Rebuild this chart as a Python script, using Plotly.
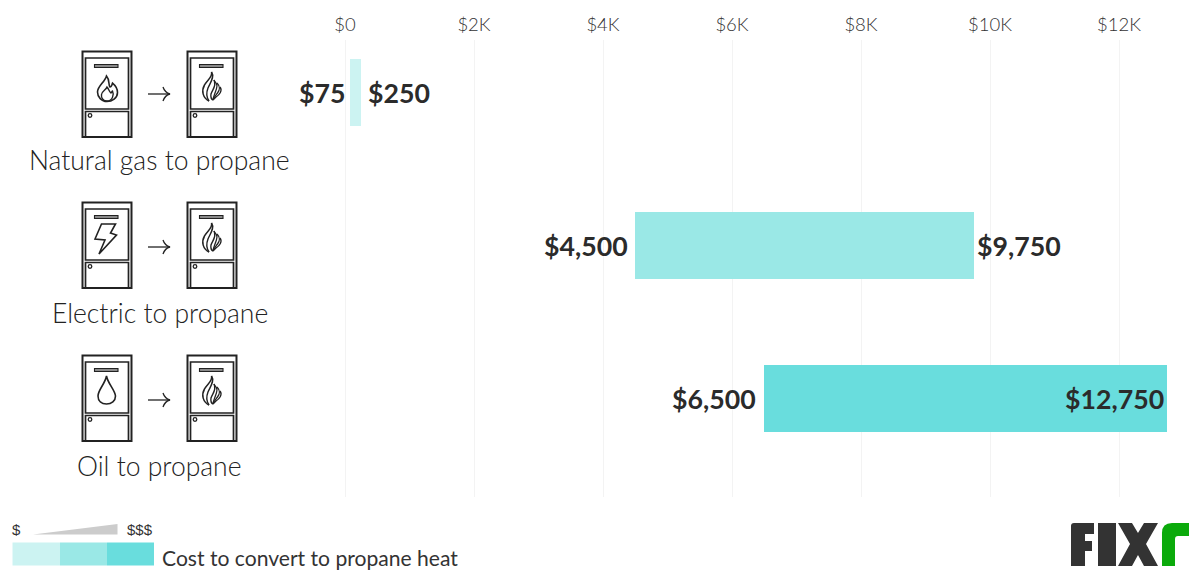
import re
import plotly.graph_objects as go

W, H = 1200, 578

# ---- data ----
categories = ["Natural gas to propane", "Electric to propane", "Oil to propane"]
low_values = [75, 4500, 6500]
high_values = [250, 9750, 12750]
low_labels = ["$75", "$4,500", "$6,500"]
high_labels = ["$250", "$9,750", "$12,750"]
bar_colors = ["#CCF3F2", "#9AE8E6", "#69DDDD"]
tick_values = [0, 2000, 4000, 6000, 8000, 10000, 12000]
tick_labels = ["$0", "$2K", "$4K", "$6K", "$8K", "$10K", "$12K"]
legend_title = "Cost to convert to propane heat"

# ---- layout constants (pixels) ----
X0_PX, PX_PER_USD = 345.0, 0.0645
PLOT_TOP, PLOT_BOTTOM = 40, 497
ROW0_PX, ROW_STEP = 92.5, 153.0
DARK = "#333333"


def to_paper(path, dx=0, dy=0):
    toks = re.findall(r"[A-Za-z]|-?\d+\.?\d*", path)
    out, is_x = [], True
    for t in toks:
        if t.isalpha():
            out.append(t)
            is_x = True
        else:
            v = float(t)
            out.append(f"{(v + dx) / W:.5f}" if is_x else f"{1 - (v + dy) / H:.5f}")
            is_x = not is_x
    return " ".join(out)


shapes = []


def add(path, dx=0, dy=0, fill=None, line=None, lw=1.0):
    shapes.append(dict(
        type="path", xref="paper", yref="paper", path=to_paper(path, dx, dy),
        fillcolor=fill if fill else "rgba(0,0,0,0)",
        line=dict(color=line if line else "rgba(0,0,0,0)", width=lw if line else 0),
        layer="above",
    ))


def rect(x0, y0, x1, y1):
    return f"M {x0} {y0} L {x1} {y0} L {x1} {y1} L {x0} {y1} Z"


def circle(cx, cy, r):
    k = 0.5523 * r
    return (f"M {cx - r} {cy} C {cx - r} {cy - k} {cx - k} {cy - r} {cx} {cy - r} "
            f"C {cx + k} {cy - r} {cx + r} {cy - k} {cx + r} {cy} "
            f"C {cx + r} {cy + k} {cx + k} {cy + r} {cx} {cy + r} "
            f"C {cx - k} {cy + r} {cx - r} {cy + k} {cx - r} {cy} Z")


INK = "#222222"


def furnace(dx, dy):
    # coordinates relative to box top-left
    add(rect(0.5, 0.5, 49.5, 86), dx, dy, line=INK, lw=2)
    add(rect(3.5, 7, 46.5, 58), dx, dy, line=INK, lw=1.7)
    add(rect(3.5, 60.5, 46.5, 86), dx, dy, line=INK, lw=1.7)
    add(rect(12.5, 13.5, 36, 16.5), dx, dy, fill="#8a8a8a", line=INK, lw=1.1)
    add(circle(8, 64.5, 1.8), dx, dy, line=INK, lw=1.3)


def propane_flame(dx, dy):
    # relative to box top-left
    add("M 24.5 21 C 26 26 20 29 17.5 34 C 14 40 16 47 22 50", dx, dy, line=INK, lw=1.5)
    add("M 24.5 21 C 28 26 23 32 21 37 C 19 42 20 47 22 50", dx, dy, line=INK, lw=1.4)
    add("M 27 29 C 30 35 25 39 24 43 C 23.5 46 24 48 26 49", dx, dy, line=INK, lw=1.4)
    add("M 27 29 C 28 31 29 32 29.5 33 C 31 35 29 39 28 42 C 27 45 26 47 26 49", dx, dy, line=INK, lw=1.3)
    add("M 30 32 C 33 35 33 39 30.5 42 C 29 44 27 46 26 49", dx, dy, line=INK, lw=1.3)
    add("M 33 36 C 36 40 32 44 29 46 C 28 47 27 48 26 49", dx, dy, line=INK, lw=1.3)


def gas_flame(dx, dy):
    add("M 24.5 25 C 28 29 26 33 28 36 C 30 36 30 33 30.5 32 C 33 34 35.5 38 35.5 41.5 "
        "C 35.5 47 30 50.5 25 50.5 C 19.5 50.5 15.5 46 15.5 41 C 15.5 35 23 31 24.5 25 Z",
        dx, dy, line=INK, lw=1.6)
    add("M 25 50 C 21 50 19 46.5 19.5 43.5 C 20 40 24 39 25 36 C 27 38 27 41 29 42 "
        "C 30 41 30 40 30.5 40 C 32 43 31 50 25 50 Z", dx, dy, line=INK, lw=1.4)


def bolt(dx, dy):
    add("M 19.5 22 L 33.5 22 L 28.5 31 L 34.5 33 L 17 52 L 23 38 L 13 37 Z", dx, dy, line=INK, lw=1.6)


def drop(dx, dy):
    add("M 24.5 21 C 26 29 33 35 33.5 41 C 33.5 46 29.5 49 24.5 49 "
        "C 19.5 49 16 46 16 41 C 16 35 23 29 24.5 21 Z", dx, dy, line=INK, lw=1.6)


def arrow(y):
    add(f"M 148 {y} L 169.5 {y}", line=INK, lw=1.3)
    add(f"M 163 {y - 7} C 164 {y - 4} 166 {y - 1} 170 {y} C 166 {y + 1} 164 {y + 4} 163 {y + 7}",
        line=INK, lw=1.3)


box_tops = [51, 202, 355]
arrow_ys = [94, 247, 400]
source_icons = [gas_flame, bolt, drop]
for top, ay, icon in zip(box_tops, arrow_ys, source_icons):
    furnace(82, top)
    furnace(187, top)
    icon(82, top)
    propane_flame(187, top)
    arrow(ay)

# legend ramp
legend_edges = [12.5, 60, 107, 154]
for c, a, b in zip(bar_colors, legend_edges[:-1], legend_edges[1:]):
    add(rect(a, 542.5, b, 565.5), fill=c)
add("M 33 534.5 L 117.5 524 L 117.5 534.5 Z", fill="#CCCCCC")

# Fixr logo
LOGO = "#333333"
add("M 1074 523 L 1094 523 L 1094 534 L 1085 534 L 1085 541 L 1092 541 L 1092 551 L 1085 551 "
    "L 1085 566 L 1071 566 L 1071 526 Q 1071 523 1074 523 Z", fill=LOGO)
add(rect(1098, 523, 1116, 566), fill=LOGO)
add("M 1118 523 L 1132 523 L 1138 533 L 1144 523 L 1158 523 L 1146 544 L 1158 566 L 1144 566 "
    "L 1138 555 L 1132 566 L 1118 566 L 1130 544 Z", fill=LOGO)
add("M 1162 566 L 1162 533 Q 1162 523 1172 523 L 1189 523 L 1189 536 L 1178 536 Q 1175 536 1175 539 "
    "L 1175 566 Z", fill="#0BAA0B")

# ---- bars ----
fig = go.Figure()
fig.add_trace(go.Bar(
    y=categories,
    x=[h - l for l, h in zip(low_values, high_values)],
    base=low_values,
    orientation="h",
    width=67 / ROW_STEP,
    marker=dict(color=bar_colors, line=dict(width=0)),
    hoverinfo="skip",
    showlegend=False,
))

# ---- annotations ----
annotations = []
VALUE_FONT = dict(family="Lato", size=26.7, color="#2b2b2b", weight=700)
low_shift = [-3, -5, -6]
high_shift = [5, 1, -1]
high_anchor = ["left", "left", "right"]
row_yshift = [-1, -1, 0]
for i, cat in enumerate(categories):
    annotations.append(dict(x=low_values[i], y=cat, xref="x", yref="y", text=low_labels[i],
                            showarrow=False, xanchor="right", xshift=low_shift[i], yshift=row_yshift[i],
                            font=VALUE_FONT))
    annotations.append(dict(x=high_values[i], y=cat, xref="x", yref="y", text=high_labels[i],
                            showarrow=False, xanchor=high_anchor[i], xshift=high_shift[i], yshift=row_yshift[i],
                            font=VALUE_FONT))
    annotations.append(dict(x=159.5 / W, y=1 - (160 + i * ROW_STEP) / H, xref="paper", yref="paper",
                            text=cat, showarrow=False, xanchor="center", yanchor="middle",
                            font=dict(family="Lato Light, Lato", size=26.5, color="#222222")))

annotations.append(dict(x=160 / W, y=1 - 557.5 / H, xref="paper", yref="paper", text=legend_title,
                        showarrow=False, xanchor="left", yanchor="middle",
                        font=dict(family="Lato", size=21.1, color=DARK)))
annotations.append(dict(x=10 / W, y=1 - 529 / H, xref="paper", yref="paper", text="$",
                        showarrow=False, xanchor="left", yanchor="middle",
                        font=dict(family="Liberation Sans", size=15, color=DARK)))
annotations.append(dict(x=125 / W, y=1 - 529 / H, xref="paper", yref="paper", text="$$$",
                        showarrow=False, xanchor="left", yanchor="middle",
                        font=dict(family="Liberation Sans", size=15, color=DARK)))

fig.update_layout(
    width=W, height=H,
    margin=dict(l=0, r=0, t=0, b=0),
    paper_bgcolor="white", plot_bgcolor="white",
    bargap=0,
    shapes=shapes,
    annotations=annotations,
    xaxis=dict(
        domain=[0, 1],
        range=[-X0_PX / PX_PER_USD, (W - X0_PX) / PX_PER_USD],
        side="top",
        tickmode="array", tickvals=tick_values, ticktext=tick_labels,
        tickfont=dict(family="Lato Light, Lato", size=18.5, color="#333333"),
        ticks="outside", ticklen=1, tickcolor="rgba(0,0,0,0)",
        showgrid=True, gridcolor="#F3F3F3", gridwidth=1,
        zeroline=False, showline=False, fixedrange=True,
    ),
    yaxis=dict(
        domain=[1 - PLOT_BOTTOM / H, 1 - PLOT_TOP / H],
        type="category", categoryorder="array", categoryarray=categories,
        range=[(PLOT_BOTTOM - ROW0_PX) / ROW_STEP, (PLOT_TOP - ROW0_PX) / ROW_STEP],
        showticklabels=False, ticks="", showgrid=False, zeroline=False, showline=False, fixedrange=True,
    ),
)

fig.write_html("out.html", config={"displayModeBar": False},
               post_script="document.body.style.margin='0';")
